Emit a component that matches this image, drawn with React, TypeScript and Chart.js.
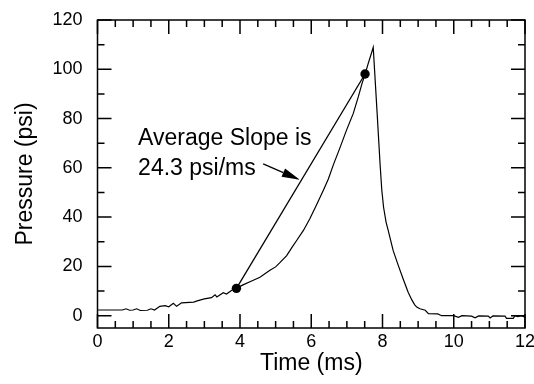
import React, { useEffect, useRef } from "react";
import { Chart, registerables } from "chart.js";

Chart.register(...registerables);

// Pressure trace (time in ms, pressure in psi)
const time = [
  0, 0.7, 0.8, 0.9, 1.0, 1.1, 1.2, 1.4, 1.5, 1.6, 1.75, 1.9, 2.0, 2.13, 2.22, 2.36, 2.7, 2.8, 3.0, 3.2,
  3.3, 3.35, 3.53, 3.62, 3.8, 3.9, 4.1, 4.28, 4.56, 4.84, 5.0, 5.12, 5.31, 5.45, 5.59, 5.78, 5.96, 6.15,
  6.34, 6.48, 6.62, 6.81, 6.99, 7.18, 7.32, 7.42, 7.51, 7.6, 7.7, 7.74, 7.85, 7.93, 7.98, 8.03, 8.1, 8.16,
  8.3, 8.44, 8.58, 8.72, 8.82, 8.9, 8.96, 9.05, 9.2, 9.29, 9.55, 9.66, 10.0, 10.13, 10.23, 10.5, 10.6,
  10.7, 10.97, 11.02, 11.1, 11.44, 11.48, 11.67, 11.72, 11.8, 11.9, 12.0,
];
const pressure = [
  2.3, 2.3, 2.8, 2.2, 2.3, 2.8, 2.1, 2.2, 2.8, 2.3, 3.8, 4.1, 3.6, 5.0, 3.8, 5.2, 5.5, 6.0, 6.8, 7.3,
  8.5, 7.6, 9.3, 8.8, 10.6, 11.2, 12.6, 13.8, 15.6, 18.4, 19.8, 21.5, 24.4, 27.5, 30.5, 34.6, 39.3, 45.0,
  50.9, 55.5, 61.2, 68.3, 75.3, 82.1, 88.8, 94.0, 98.0, 102.4, 107.0, 108.9, 82.0, 62.0, 51.0, 44.0, 38.0, 34.6,
  26.4, 20.5, 14.9, 9.5, 6.5, 4.5, 3.5, 2.8, 2.2, 0.8, 0.7, 0.0, 0.0, -0.7, 0.0, -0.2, -0.9,
  -0.1, -0.2, -0.9, -0.1, -0.2, -1.1, -1.1, 0.0, -0.4, 0.0, -0.6,
];

// Average-slope chord end points
const slopeTime = [3.9, 7.51];
const slopePressure = [11.1, 98.1];

// Axis ticks
const xTicks = [0, 2, 4, 6, 8, 10, 12];
const yTicks = [0, 20, 40, 60, 80, 100, 120];

// Annotation
const noteLines = ["Average Slope is", "24.3 psi/ms"];
const noteTime = 1.14;
const notePressure = [69.3, 57.1];
const arrowTime = [4.65, 5.68];
const arrowPressure = [61.6, 55.2];

const FONT = '"Liberation Sans", Arial, Helvetica, sans-serif';

const framePlugin = {
  id: "frameTicks",
  afterDatasetsDraw(chart: any) {
    const { ctx, chartArea, scales } = chart;
    const { left, right, top, bottom } = chartArea;
    const x = scales.x;
    const y = scales.y;
    ctx.save();
    ctx.strokeStyle = "#000";
    ctx.lineWidth = 1.5;
    ctx.strokeRect(left, top, right - left, bottom - top);
    ctx.beginPath();
    for (let i = 0; i <= 24; i++) {
      const v = i * 0.5;
      const px = x.getPixelForValue(v);
      const len = i % 4 === 0 ? 14 : 7;
      ctx.moveTo(px, bottom);
      ctx.lineTo(px, bottom - len);
      ctx.moveTo(px, top);
      ctx.lineTo(px, top + len);
    }
    for (let i = 0; i <= 12; i++) {
      const v = i * 10;
      const py = y.getPixelForValue(v);
      const len = i % 2 === 0 ? 14 : 7;
      ctx.moveTo(left, py);
      ctx.lineTo(left + len, py);
      ctx.moveTo(right, py);
      ctx.lineTo(right - len, py);
    }
    ctx.stroke();

    // annotation text
    ctx.fillStyle = "#000";
    ctx.font = `23px ${FONT}`;
    ctx.textAlign = "left";
    ctx.textBaseline = "alphabetic";
    noteLines.forEach((t, i) => {
      ctx.fillText(t, x.getPixelForValue(noteTime), y.getPixelForValue(notePressure[i]));
    });

    // arrow
    const x0 = x.getPixelForValue(arrowTime[0]);
    const y0 = y.getPixelForValue(arrowPressure[0]);
    const x1 = x.getPixelForValue(arrowTime[1]);
    const y1 = y.getPixelForValue(arrowPressure[1]);
    const ang = Math.atan2(y1 - y0, x1 - x0);
    const headLen = 18;
    const headW = 4.5;
    const bx = x1 - headLen * Math.cos(ang);
    const by = y1 - headLen * Math.sin(ang);
    ctx.lineWidth = 1.3;
    ctx.beginPath();
    ctx.moveTo(x0, y0);
    ctx.lineTo(bx, by);
    ctx.stroke();
    ctx.beginPath();
    ctx.moveTo(x1, y1);
    ctx.lineTo(bx + headW * Math.sin(ang), by - headW * Math.cos(ang));
    ctx.lineTo(bx - headW * Math.sin(ang), by + headW * Math.cos(ang));
    ctx.closePath();
    ctx.fill();
    ctx.restore();
  },
};

export default function App() {
  const ref = useRef<HTMLCanvasElement | null>(null);
  useEffect(() => {
    if (!ref.current) return;
    const tickFont = { family: FONT, size: 18 };
    const chart = new Chart(ref.current, {
      type: "line",
      data: {
        datasets: [
          {
            data: time.map((t, i) => ({ x: t, y: pressure[i] })),
            borderColor: "#000",
            borderWidth: 1.2,
            pointRadius: 0,
            tension: 0,
          },
          {
            data: slopeTime.map((t, i) => ({ x: t, y: slopePressure[i] })),
            borderColor: "#000",
            borderWidth: 1.3,
            pointRadius: 4.7,
            pointBackgroundColor: "#000",
            pointBorderColor: "#000",
            pointBorderWidth: 0,
            tension: 0,
          },
        ],
      },
      options: {
        responsive: false,
        animation: false,
        events: [],
        layout: { padding: { left: 0, right: 9, top: 20, bottom: 0 } },
        plugins: { legend: { display: false }, tooltip: { enabled: false } },
        scales: {
          x: {
            type: "linear",
            min: 0,
            max: 12,
            afterBuildTicks: (s: any) => {
              s.ticks = xTicks.map((v) => ({ value: v }));
            },
            afterFit: (s: any) => {
              s.height = 56;
              s.paddingLeft = 0;
              s.paddingRight = 0;
            },
            grid: { display: false, drawTicks: false },
            border: { display: false },
            ticks: { padding: 3, font: tickFont, color: "#000", maxRotation: 0, autoSkip: false },
            title: {
              display: true,
              text: "Time (ms)",
              color: "#000",
              font: { family: FONT, size: 23 },
              padding: { top: 0, bottom: 6.5 },
            },
          },
          y: {
            type: "linear",
            min: -5,
            max: 120,
            afterBuildTicks: (s: any) => {
              s.ticks = yTicks.map((v) => ({ value: v }));
            },
            afterFit: (s: any) => {
              s.width = 97.5;
              s.paddingTop = 0;
              s.paddingBottom = 0;
            },
            grid: { display: false, drawTicks: false },
            border: { display: false },
            ticks: { padding: 15, font: tickFont, color: "#000", autoSkip: false },
            title: {
              display: true,
              text: "Pressure (psi)",
              color: "#000",
              font: { family: FONT, size: 23 },
              padding: { top: 11.5, bottom: 0 },
            },
          },
        },
      },
      plugins: [framePlugin],
    });
    return () => chart.destroy();
  }, []);
  return (
    <div style={{ position: "absolute", left: 0, top: 0, width: 534, height: 384, background: "#fff" }}>
      <canvas ref={ref} width={534} height={384} style={{ display: "block" }} />
    </div>
  );
}
